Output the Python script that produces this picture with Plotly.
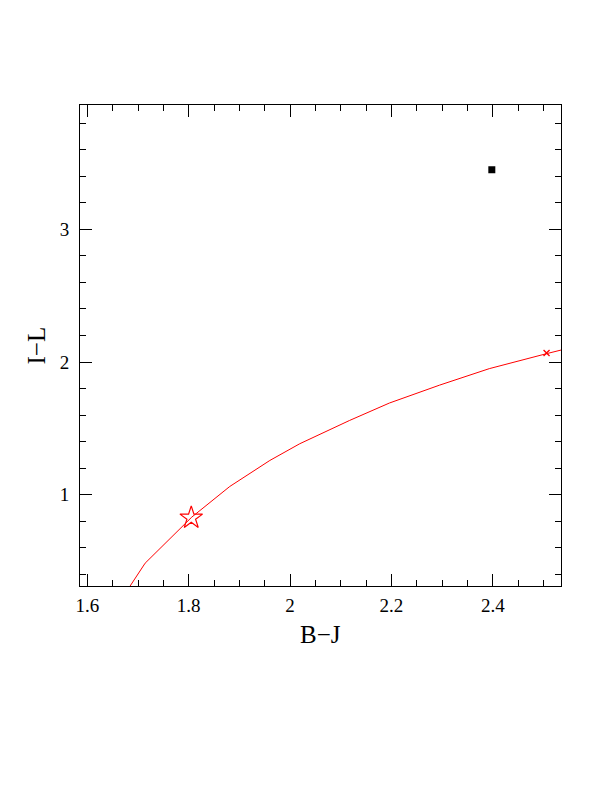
import plotly.graph_objects as go

# Red track (B-J vs I-L)
track_bj = [1.672, 1.714, 1.806, 1.881, 1.960, 2.019, 2.117, 2.196, 2.295, 2.393, 2.506, 2.545]
track_il = [0.240, 0.484, 0.831, 1.062, 1.258, 1.384, 1.559, 1.691, 1.826, 1.950, 2.063, 2.100]

# Markers on the track
star_bj = [1.805]
star_il = [0.826]
cross_bj = [2.506]
cross_il = [2.068]

# Black square point
obs_bj = [2.398]
obs_il = [3.449]

x_ticks = [1.6, 1.8, 2.0, 2.2, 2.4]
x_tick_labels = ["1.6", "1.8", "2", "2.2", "2.4"]
y_ticks = [1, 2, 3]
y_tick_labels = ["1", "2", "3"]

x_range = [1.5855, 2.5345]
y_range = [0.312, 3.937]

FONT = "Liberation Serif"

fig = go.Figure()
fig.add_trace(go.Scatter(x=track_bj, y=track_il, mode="lines",
                         line=dict(color="red", width=1), showlegend=False))
fig.add_trace(go.Scatter(x=star_bj, y=star_il, mode="markers",
                         marker=dict(symbol="star-open", size=17, color="red",
                                     line=dict(color="red", width=1.2)),
                         showlegend=False))
fig.add_trace(go.Scatter(x=cross_bj, y=cross_il, mode="markers",
                         marker=dict(symbol="x-thin", size=6,
                                     line=dict(color="red", width=1.3)),
                         showlegend=False))
fig.add_trace(go.Scatter(x=obs_bj, y=obs_il, mode="markers",
                         marker=dict(symbol="square", size=7, color="black",
                                     line=dict(width=0)),
                         showlegend=False))

axis_common = dict(showgrid=False, zeroline=False, showline=True, linecolor="black",
                   linewidth=1, ticks="inside", ticklen=12, tickwidth=1,
                   tickcolor="black", mirror="ticks",
                   tickfont=dict(family=FONT, size=19, color="black"))

fig.update_xaxes(range=x_range, tickvals=x_ticks, ticktext=x_tick_labels,
                 minor=dict(dtick=0.05, tick0=1.6, ticks="inside", ticklen=6,
                            tickcolor="black", tickwidth=1),
                 ticklabelstandoff=2, **axis_common)
fig.update_yaxes(range=y_range, tickvals=y_ticks, ticktext=y_tick_labels,
                 minor=dict(dtick=0.2, tick0=0, ticks="inside", ticklen=6,
                            tickcolor="black", tickwidth=1),
                 ticklabelstandoff=6, **axis_common)

fig.add_annotation(text="B\u2212J", xref="paper", yref="paper", x=0.5, y=0,
                   yshift=-48, showarrow=False, yanchor="middle",
                   font=dict(family=FONT, size=25, color="black"))
fig.add_annotation(text="I\u2212L", xref="paper", yref="paper", x=0, y=0.5,
                   xshift=-44, showarrow=False, textangle=-90, xanchor="center",
                   font=dict(family=FONT, size=25, color="black"))

# The page body adds an 8px margin, so the figure is offset accordingly
fig.update_layout(width=596, height=776, plot_bgcolor="white", paper_bgcolor="white",
                  margin=dict(l=72, r=43, t=97, b=198, autoexpand=False),
                  showlegend=False)

fig.write_html("out.html")
